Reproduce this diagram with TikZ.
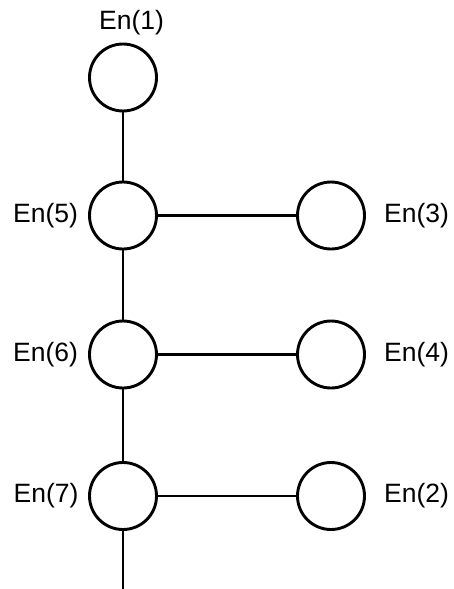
\documentclass[tikz,border=0pt]{standalone}
\usepackage{fontspec}
\setmainfont{Liberation Sans}
\begin{document}
\begin{tikzpicture}[x=1pt,y=-1pt,
  entity/.style={circle,draw=black,line width=2.9pt,minimum size=67pt,inner sep=0pt},
  link/.style={line width=2.9pt},
  tag/.style={font=\fontsize{26.5}{31}\selectfont,inner sep=0pt}]
  \useasboundingbox (0,0) rectangle (454,589);
  % main column of entities
  \node[entity] (e1) at (123,77.5) {};
  \node[entity] (e5) at (123,215.5) {};
  \node[entity] (e6) at (123,354.5) {};
  \node[entity] (e7) at (123,496) {};
  % side entities
  \node[entity] (e3) at (331,215.5) {};
  \node[entity] (e4) at (331,354.5) {};
  \node[entity] (e2) at (331,496) {};
  \coordinate (tail) at (123,590);
  % labels
  \node[tag] (l1) at (131.5,23) {En(1)};
  \node[tag] (l5) at (45.5,215.5) {En(5)};
  \node[tag] (l6) at (45.5,354.5) {En(6)};
  \node[tag] (l7) at (46,496) {En(7)};
  \node[tag] (l3) at (416.5,215.5) {En(3)};
  \node[tag] (l4) at (416.5,354.5) {En(4)};
  \node[tag] (l2) at (416.5,496) {En(2)};
  % connectors
  \draw[link] (e1) -- (e5);
  \draw[link] (e5) -- (e6);
  \draw[link] (e6) -- (e7);
  \draw[link] (e7) -- (tail);
  \draw[link] (e5) -- (e3);
  \draw[link] (e6) -- (e4);
  \draw[link] (e7) -- (e2);
\end{tikzpicture}
\end{document}
